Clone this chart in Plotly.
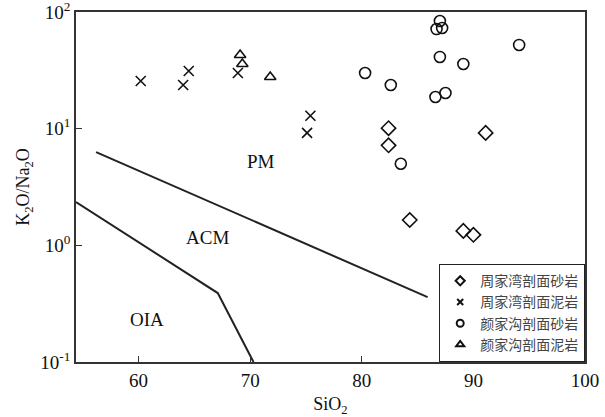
import math
import plotly.graph_objects as go

# Data
zjw_sand_x = [82.4, 91.1, 82.4, 84.3, 89.1, 90.0]
zjw_sand_y = [10.1, 9.2, 7.2, 1.65, 1.33, 1.23]

zjw_mud_x = [60.2, 64.0, 64.5, 68.9, 75.1, 75.4]
zjw_mud_y = [25.6, 23.7, 31.2, 30.0, 9.2, 12.9]

yjg_sand_x = [87.0, 86.7, 87.2, 94.1, 87.0, 89.1, 80.3, 82.6, 86.6, 87.5, 83.5]
yjg_sand_y = [83.7, 71.4, 73.0, 52.2, 41.2, 35.8, 30.0, 23.7, 18.7, 20.2, 5.0]

yjg_mud_x = [69.1, 69.3, 71.8]
yjg_mud_y = [42.8, 35.8, 27.7]

pm_acm_x = [56.2, 85.9]
pm_acm_y = [6.3, 0.36]

acm_oia_x = [54.4, 67.1, 70.3]
acm_oia_y = [2.35, 0.39, 0.1]

region_labels = ["PM", "ACM", "OIA"]
region_x = [71.0, 66.2, 60.8]
region_y = [5.2, 1.16, 0.23]

legend_names = ["周家湾剖面砂岩", "周家湾剖面泥岩", "颜家沟剖面砂岩", "颜家沟剖面泥岩"]

fig = go.Figure()

line_style = dict(color="#222", width=2)
fig.add_trace(go.Scatter(x=pm_acm_x, y=pm_acm_y, mode="lines", line=line_style, showlegend=False, hoverinfo="skip"))
fig.add_trace(go.Scatter(x=acm_oia_x, y=acm_oia_y, mode="lines", line=line_style, showlegend=False, hoverinfo="skip"))

series = [
    (zjw_sand_x, zjw_sand_y, "diamond-open", 11, 7),
    (zjw_mud_x, zjw_mud_y, "x-thin-open", 10, 6),
    (yjg_sand_x, yjg_sand_y, "circle-open", 11, 7),
    (yjg_mud_x, yjg_mud_y, "triangle-up-open", 10, 7),
]
for (xs, ys, sym, sz, lsz), name in zip(series, legend_names):
    fig.add_trace(go.Scatter(
        x=xs, y=ys, mode="markers", name=name, showlegend=False,
        marker=dict(symbol=sym, size=sz, color="#111", line=dict(color="#111", width=1.6)),
    ))
    # legend-only entry with smaller symbol, as in the reference
    fig.add_trace(go.Scatter(
        x=[None], y=[None], mode="markers", name=name, showlegend=True,
        marker=dict(symbol=sym, size=lsz, color="#111", line=dict(color="#111", width=2)),
    ))

for t, xx, yy in zip(region_labels, region_x, region_y):
    fig.add_annotation(x=xx, y=math.log10(yy), yref="y", xref="x", text=t, showarrow=False,
                       font=dict(family="Liberation Serif", size=19, color="#111"))

fig.update_layout(
    width=605, height=417,
    margin=dict(l=76, r=20, t=12, b=55),
    plot_bgcolor="white", paper_bgcolor="white",
    font=dict(family="Liberation Serif", size=19, color="#111"),
    legend=dict(
        x=1, y=0, xanchor="right", yanchor="bottom",
        bordercolor="#222", borderwidth=1.2, bgcolor="white",
        font=dict(family="Noto Sans CJK SC", size=14, color="#444"),
        itemsizing="trace", tracegroupgap=0, itemwidth=30,
    ),
)
fig.update_xaxes(
    range=[54.4, 100], tickvals=[60, 70, 80, 90, 100], ticktext=["60", "70", "80", "90", "100"],
    ticks="inside", ticklen=6, tickcolor="#333", showgrid=False, zeroline=False,
    showline=True, linecolor="#333", linewidth=1.5, mirror=True, automargin=False,
    ticklabeloverflow="allow",
    title=dict(text="SiO<sub>2</sub>", font=dict(size=18), standoff=10),
)
fig.update_yaxes(
    type="log", range=[-1, 2],
    tickvals=[0.1, 1, 10, 100],
    ticktext=["10<sup>-1</sup>", "10<sup>0</sup>", "10<sup>1</sup>", "10<sup>2</sup>"],
    ticks="inside", ticklen=6, tickcolor="#333", showgrid=False, zeroline=False,
    showline=True, linecolor="#333", linewidth=1.5, mirror=True, automargin=False,
    ticklabeloverflow="allow",
    title=dict(text="K<sub>2</sub>O/Na<sub>2</sub>O", font=dict(size=18), standoff=6),
)

fig.write_html("out.html")
